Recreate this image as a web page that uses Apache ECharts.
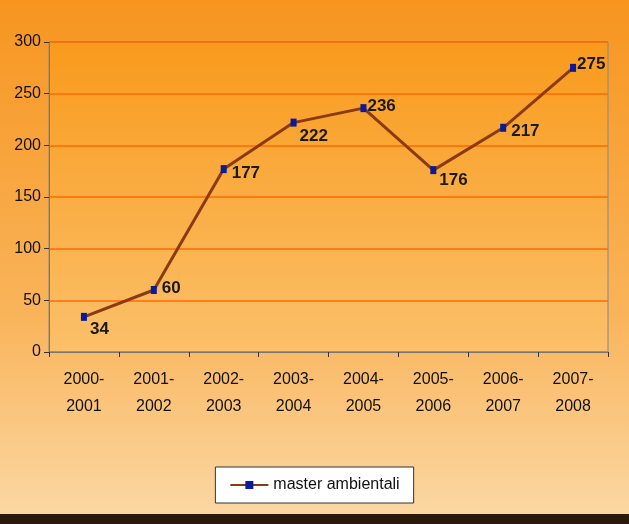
<!DOCTYPE html>
<html>
<head>
<meta charset="utf-8">
<script src="https://cdn.jsdelivr.net/npm/echarts@6/dist/echarts.min.js"></script>
<style>
html, body { margin: 0; padding: 0; }
#chart { width: 629px; height: 524px; }
</style>
</head>
<body>
<div id="chart"></div>
<script>
// Academic years and number of environmental masters
var years = ['2000-\n2001', '2001-\n2002', '2002-\n2003', '2003-\n2004', '2004-\n2005', '2005-\n2006', '2006-\n2007', '2007-\n2008'];
var masters = [34, 60, 177, 222, 236, 176, 217, 275];
var labelOffsets = [[-2, 12], [0, -2], [0, 4], [-2, 14], [-4, -2], [-2, 10], [0, 4], [-4, -4]];

var font = "'Liberation Sans Narrow', 'Liberation Sans', sans-serif";
var chart = echarts.init(document.getElementById('chart'));

var option = {
    backgroundColor: {
        type: 'linear', x: 0, y: 0, x2: 0, y2: 1,
        colorStops: [
            { offset: 0, color: '#f7951f' },
            { offset: 0.6, color: '#f9b45a' },
            { offset: 1, color: '#fbd9a6' }
        ]
    },
    grid: { left: 49, right: 21, top: 42, bottom: 172 },
    legend: {
        bottom: 21,
        left: 'center',
        backgroundColor: '#ffffff',
        borderColor: '#333',
        borderWidth: 1,
        padding: [10, 14],
        itemWidth: 38,
        itemHeight: 10,
        textStyle: { fontFamily: font, fontSize: 16, color: '#111' },
        data: ['master ambientali']
    },
    xAxis: {
        type: 'category',
        data: years,
        axisLine: { lineStyle: { color: '#777' } },
        axisTick: { show: true, interval: 0, lineStyle: { color: '#333' } },
        axisLabel: { fontFamily: font, fontSize: 16, color: '#111', lineHeight: 27, margin: 14 },
        splitLine: { show: false }
    },
    yAxis: {
        type: 'value',
        min: 0,
        max: 300,
        interval: 50,
        axisLine: { show: true, lineStyle: { color: '#777' } },
        axisTick: { show: true, lineStyle: { color: '#333' } },
        axisLabel: { fontFamily: font, fontSize: 16, color: '#111', margin: 8 },
        splitLine: { lineStyle: { color: '#ff6a00', width: 1.5 } }
    },
    series: [{
        name: 'master ambientali',
        type: 'line',
        data: masters.map(function (v, i) {
            return { value: v, label: { offset: labelOffsets[i] } };
        }),
        symbol: 'rect',
        symbolSize: [6, 8],
        itemStyle: { color: '#0a1a9c' },
        lineStyle: { color: '#8b3a12', width: 3 },
        label: {
            show: true,
            position: 'right',
            fontFamily: font,
            fontWeight: 'bold',
            fontSize: 17,
            color: '#1a1a1a'
        }
    }]
};

chart.setOption(option);

// plot area tint and bottom frame
chart.setOption({
    graphic: [{
        type: 'rect', z: -1,
        shape: { x: 49, y: 42, width: 559, height: 310 },
        style: {
            fill: { type: 'linear', x: 0, y: 0, x2: 0, y2: 1,
                colorStops: [{ offset: 0, color: '#f99a1c' }, { offset: 1, color: '#fbc06a' }] },
            stroke: '#888', lineWidth: 1
        }
    }, {
        type: 'rect', z: -1,
        shape: { x: 0, y: 514, width: 629, height: 10 },
        style: { fill: '#2a1a0a' }
    }]
});
</script>
</body>
</html>
